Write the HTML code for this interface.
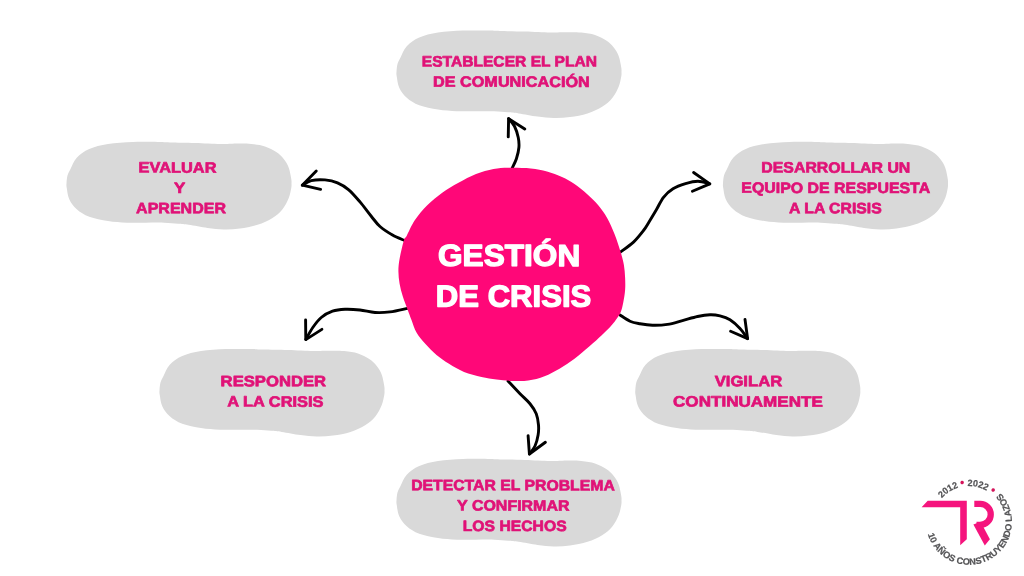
<!DOCTYPE html>
<html lang="es">
<head>
<meta charset="utf-8">
<title>Gestión de crisis</title>
<style>
html,body{margin:0;padding:0;background:#fff;}
body{width:1024px;height:576px;overflow:hidden;}
svg{display:block;}
.t{font-family:"Liberation Sans",sans-serif;font-weight:bold;font-size:15.0px;fill:#e01277;stroke:#e01277;stroke-width:0.7px;stroke-linejoin:round;}
.c{font-family:"Liberation Sans",sans-serif;font-weight:bold;font-size:30.4px;fill:#fff;stroke:#fff;stroke-width:1.3px;stroke-linejoin:round;}
.l{font-family:"Liberation Sans",sans-serif;font-weight:bold;font-size:9.2px;fill:#555557;stroke:#555557;stroke-width:0.2px;}
.a{fill:none;stroke:#000;stroke-width:2.9;stroke-linecap:round;stroke-linejoin:round;}
</style>
</head>
<body>
<svg width="1024" height="576" viewBox="0 0 1024 576">
<rect width="1024" height="576" fill="#fff"/>
<defs><path id="blob" d="M396.50,72.00C396.62,69.92 396.83,66.42 397.50,64.00C398.17,61.58 398.96,60.46 400.50,57.50C402.04,54.54 403.62,49.58 406.75,46.25C409.88,42.92 414.04,39.79 419.25,37.50C424.46,35.21 430.71,33.65 438.00,32.50C445.29,31.35 454.67,30.92 463.00,30.60C471.33,30.28 481.83,30.53 488.00,30.60C494.17,30.67 493.83,30.85 500.00,31.00C506.17,31.15 516.67,31.25 525.00,31.50C533.33,31.75 543.75,32.38 550.00,32.50C556.25,32.62 557.29,32.25 562.50,32.25C567.71,32.25 575.83,32.04 581.25,32.50C586.67,32.96 590.83,33.65 595.00,35.00C599.17,36.35 603.12,38.52 606.25,40.60C609.38,42.68 611.67,44.89 613.75,47.50C615.83,50.11 617.50,52.92 618.75,56.25C620.00,59.58 620.79,64.88 621.25,67.50C621.71,70.12 621.50,70.50 621.50,72.00C621.50,73.50 621.71,74.08 621.25,76.50C620.79,78.92 620.21,82.96 618.75,86.50C617.29,90.04 615.21,94.42 612.50,97.75C609.79,101.08 606.67,103.89 602.50,106.50C598.33,109.11 592.92,111.63 587.50,113.40C582.08,115.17 575.62,116.33 570.00,117.10C564.38,117.87 559.17,118.10 553.75,118.00C548.33,117.90 543.33,117.27 537.50,116.50C531.67,115.73 523.67,114.10 518.75,113.40C513.83,112.70 512.08,112.66 508.00,112.30C503.92,111.94 499.67,111.42 494.25,111.25C488.83,111.08 481.75,111.25 475.50,111.25C469.25,111.25 463.00,111.53 456.75,111.25C450.50,110.97 444.25,110.60 438.00,109.60C431.75,108.60 424.46,107.22 419.25,105.25C414.04,103.28 410.08,100.67 406.75,97.75C403.42,94.83 400.92,91.29 399.25,87.75C397.58,84.21 397.21,79.12 396.75,76.50C396.29,73.88 396.38,74.08 396.50,72.00Z"/><filter id="aa" x="0" y="0" width="1024" height="576" filterUnits="userSpaceOnUse" color-interpolation-filters="sRGB"><feColorMatrix type="matrix" values="1 0 0 0 0 0 1 0 0 0 0 0 1 0 0 0 0 0 1 0"/></filter></defs>
<use href="#blob" fill="#d9d9d9" transform="translate(0,0)"/>
<use href="#blob" fill="#d9d9d9" transform="translate(-330,111.4)"/>
<use href="#blob" fill="#d9d9d9" transform="translate(326.5,111.4)"/>
<use href="#blob" fill="#d9d9d9" transform="translate(-237,318.5)"/>
<use href="#blob" fill="#d9d9d9" transform="translate(238.8,318.5)"/>
<use href="#blob" fill="#d9d9d9" transform="translate(0,428.4)"/>
<path class="a" d="M512.00,168.50C512.73,166.88 515.25,162.25 516.40,158.75C517.55,155.25 518.59,151.04 518.90,147.50C519.21,143.96 518.98,141.04 518.25,137.50C517.52,133.96 516.11,129.40 514.50,126.25C512.89,123.10 509.58,119.88 508.60,118.60"/>
<path class="a" d="M508.25,136.9L508.6,118.6L524.75,129"/>
<path class="a" d="M404.50,240.50C402.50,239.58 396.58,237.33 392.50,235.00C388.42,232.67 383.54,229.62 380.00,226.50C376.46,223.38 374.58,220.35 371.25,216.25C367.92,212.15 363.75,206.31 360.00,201.90C356.25,197.49 352.50,192.98 348.75,189.80C345.00,186.62 341.46,184.45 337.50,182.80C333.54,181.15 329.38,180.27 325.00,179.90C320.62,179.53 315.03,179.72 311.25,180.60C307.47,181.48 303.79,184.43 302.30,185.20"/>
<path class="a" d="M316.25,171L302.3,185.2L320.6,189.4"/>
<path class="a" d="M620.00,252.40C622.25,250.68 629.58,245.75 633.50,242.10C637.42,238.45 640.87,233.93 643.50,230.50C646.13,227.07 647.13,225.00 649.30,221.50C651.47,218.00 654.13,213.53 656.50,209.50C658.87,205.47 660.75,200.75 663.50,197.30C666.25,193.85 669.33,191.07 673.00,188.80C676.67,186.53 681.33,184.95 685.50,183.70C689.67,182.45 693.95,181.27 698.00,181.30C702.05,181.33 707.83,183.47 709.80,183.90"/>
<path class="a" d="M693.6,172.5L709.8,183.9L692.4,191.25"/>
<path class="a" d="M407.50,308.30C404.58,308.90 395.42,311.20 390.00,311.90C384.58,312.60 380.00,312.82 375.00,312.50C370.00,312.18 365.00,310.53 360.00,310.00C355.00,309.47 349.58,309.10 345.00,309.30C340.42,309.50 336.46,309.83 332.50,311.20C328.54,312.57 324.53,314.78 321.25,317.50C317.97,320.22 315.38,323.82 312.80,327.50C310.23,331.18 306.97,337.58 305.80,339.60"/>
<path class="a" d="M305.6,320L305.8,339.6L321.9,329.4"/>
<path class="a" d="M620.00,315.00C621.67,316.04 626.67,319.79 630.00,321.25C633.33,322.71 636.25,323.08 640.00,323.75C643.75,324.42 647.92,325.14 652.50,325.25C657.08,325.36 662.50,325.17 667.50,324.40C672.50,323.62 677.50,321.92 682.50,320.60C687.50,319.28 692.92,317.48 697.50,316.50C702.08,315.52 706.25,314.82 710.00,314.70C713.75,314.58 716.67,314.97 720.00,315.80C723.33,316.63 726.67,317.60 730.00,319.70C733.33,321.80 737.07,325.25 740.00,328.40C742.93,331.55 746.33,336.90 747.60,338.60"/>
<path class="a" d="M745,319.4L747.6,338.6L730.6,331.25"/>
<path class="a" d="M508.00,381.00C510.00,383.12 516.33,389.96 520.00,393.75C523.67,397.54 527.29,400.42 530.00,403.75C532.71,407.08 534.83,410.21 536.25,413.75C537.67,417.29 538.19,421.46 538.50,425.00C538.81,428.54 538.68,431.50 538.10,435.00C537.52,438.50 536.45,442.83 535.00,446.00C533.55,449.17 530.33,452.67 529.40,454.00"/>
<path class="a" d="M528.1,435.6L529.4,454L545.4,442.25"/>
<path d="M508.50,167.75C514.71,167.65 524.33,167.78 530.75,168.40C537.17,169.03 541.79,170.05 547.00,171.50C552.21,172.95 557.42,175.02 562.00,177.10C566.58,179.18 570.33,181.18 574.50,184.00C578.67,186.82 583.04,190.46 587.00,194.00C590.96,197.54 594.92,201.29 598.25,205.25C601.58,209.21 604.29,212.96 607.00,217.75C609.71,222.54 612.21,228.21 614.50,234.00C616.79,239.79 619.18,247.33 620.75,252.50C622.32,257.67 623.17,260.83 623.90,265.00C624.62,269.17 624.90,273.33 625.10,277.50C625.30,281.67 625.41,285.83 625.10,290.00C624.79,294.17 623.98,298.83 623.25,302.50C622.52,306.17 622.00,309.08 620.75,312.00C619.50,314.92 617.42,317.62 615.75,320.00C614.08,322.38 613.04,323.75 610.75,326.25C608.46,328.75 605.54,331.67 602.00,335.00C598.46,338.33 594.08,342.29 589.50,346.25C584.92,350.21 579.50,355.00 574.50,358.75C569.50,362.50 564.50,365.83 559.50,368.75C554.50,371.67 549.71,374.27 544.50,376.25C539.29,378.23 533.67,379.83 528.25,380.60C522.83,381.38 517.29,381.10 512.00,380.90C506.71,380.70 501.58,380.07 496.50,379.40C491.42,378.73 486.92,378.15 481.50,376.90C476.08,375.65 469.42,374.09 464.00,371.90C458.58,369.71 453.58,366.57 449.00,363.75C444.42,360.93 440.46,358.33 436.50,355.00C432.54,351.67 428.58,347.50 425.25,343.75C421.92,340.00 418.79,336.46 416.50,332.50C414.21,328.54 412.96,323.75 411.50,320.00C410.04,316.25 409.21,313.96 407.75,310.00C406.29,306.04 404.11,300.62 402.75,296.25C401.39,291.88 400.33,287.92 399.60,283.75C398.88,279.58 398.40,275.42 398.40,271.25C398.40,267.08 398.67,263.96 399.60,258.75C400.53,253.54 402.83,243.79 404.00,240.00C405.17,236.21 404.81,239.29 406.60,236.00C408.39,232.71 411.31,225.38 414.75,220.25C418.19,215.12 422.67,209.83 427.25,205.25C431.83,200.67 437.04,196.50 442.25,192.75C447.46,189.00 452.88,185.88 458.50,182.75C464.12,179.62 470.17,176.29 476.00,174.00C481.83,171.71 488.08,170.04 493.50,169.00C498.92,167.96 502.29,167.85 508.50,167.75Z" fill="#ff0778"/>
<g filter="url(#aa)">
<text id="t0" class="t" transform="matrix(1,0.001,0,1,0,-0.509)" x="421.75" y="66.50" textLength="175.33" lengthAdjust="spacingAndGlyphs">ESTABLECER EL PLAN</text>
<text id="t1" class="t" transform="matrix(1,0.001,0,1,0,-0.511)" x="433.03" y="86.85" textLength="156.76" lengthAdjust="spacingAndGlyphs">DE COMUNICACIÓN</text>
<text id="t2" class="t" transform="matrix(1,0.001,0,1,0,-0.178)" x="138.64" y="172.65" textLength="77.86" lengthAdjust="spacingAndGlyphs">EVALUAR</text>
<text id="t3" class="t" transform="matrix(1,0.001,0,1,0,-0.180)" x="174.01" y="192.95" textLength="11.33" lengthAdjust="spacingAndGlyphs">Y</text>
<text id="t4" class="t" transform="matrix(1,0.001,0,1,0,-0.181)" x="136.14" y="213.25" textLength="89.88" lengthAdjust="spacingAndGlyphs">APRENDER</text>
<text id="t5" class="t" transform="matrix(1,0.001,0,1,0,-0.836)" x="761.32" y="172.65" textLength="149.04" lengthAdjust="spacingAndGlyphs">DESARROLLAR UN</text>
<text id="t6" class="t" transform="matrix(1,0.001,0,1,0,-0.836)" x="741.31" y="192.95" textLength="188.85" lengthAdjust="spacingAndGlyphs">EQUIPO DE RESPUESTA</text>
<text id="t7" class="t" transform="matrix(1,0.001,0,1,0,-0.835)" x="789.06" y="213.25" textLength="92.68" lengthAdjust="spacingAndGlyphs">A LA CRISIS</text>
<text id="t8" class="t" transform="matrix(1,0.001,0,1,0,-0.273)" x="220.60" y="386.25" textLength="105.57" lengthAdjust="spacingAndGlyphs">RESPONDER</text>
<text id="t9" class="t" transform="matrix(1,0.001,0,1,0,-0.275)" x="227.15" y="406.65" textLength="96.44" lengthAdjust="spacingAndGlyphs">A LA CRISIS</text>
<text id="t10" class="t" transform="matrix(1,0.001,0,1,0,-0.748)" x="714.68" y="386.25" textLength="67.58" lengthAdjust="spacingAndGlyphs">VIGILAR</text>
<text id="t11" class="t" transform="matrix(1,0.001,0,1,0,-0.748)" x="673.04" y="406.65" textLength="149.84" lengthAdjust="spacingAndGlyphs">CONTINUAMENTE</text>
<text id="t12" class="t" transform="matrix(1,0.001,0,1,0,-0.513)" x="411.16" y="490.35" textLength="203.63" lengthAdjust="spacingAndGlyphs">DETECTAR EL PROBLEMA</text>
<text id="t13" class="t" transform="matrix(1,0.001,0,1,0,-0.513)" x="457.08" y="510.65" textLength="112.42" lengthAdjust="spacingAndGlyphs">Y CONFIRMAR</text>
<text id="t14" class="t" transform="matrix(1,0.001,0,1,0,-0.515)" x="462.76" y="530.95" textLength="103.89" lengthAdjust="spacingAndGlyphs">LOS HECHOS</text>
<text id="c0" class="c" transform="matrix(1,0.001,0,1,0,-0.509)" x="438.05" y="265.85" textLength="142.17" lengthAdjust="spacingAndGlyphs">GESTIÓN</text>
<text id="c1" class="c" transform="matrix(1,0.001,0,1,0,-0.514)" x="435.84" y="306.55" textLength="155.46" lengthAdjust="spacingAndGlyphs">DE CRISIS</text>
<polygon fill="#f5147d" points="927.7,500.8 966.8,500.8 966.8,539.2 960.2,545.3 960.2,507.3 921.6,507.3"/>
<path fill="none" stroke="#f5147d" stroke-width="6.3" d="M974.3,503.95 H980.3 A10.45,10.45 0 0 1 980.3,524.85 H976.5"/>
<polygon fill="#f5147d" points="973.4,524.6 980.6,521.7 989.9,539.2 984.8,545.5"/>
<path id="arcb" fill="none" d="M927.87,534.18 A42.9,42.9 0 1 0 1000.88,493.29"/>
<path id="arct" fill="none" d="M941.83,498.38 A36.0,36.0 0 0 1 992.14,494.42"/>
<text class="l" textLength="153.9" lengthAdjust="spacingAndGlyphs"><textPath href="#arcb" textLength="153.9" lengthAdjust="spacingAndGlyphs">10 AÑOS CONSTRUYENDO LAZOS</textPath></text>
<text class="l" textLength="55.9" lengthAdjust="spacingAndGlyphs"><textPath href="#arct" textLength="55.9" lengthAdjust="spacingAndGlyphs">2012 <tspan fill="#d4145a" stroke="none" font-size="12.5">•</tspan> 2022 <tspan fill="#d4145a" stroke="none" font-size="12.5">•</tspan></textPath></text>
</g>
</svg>
</body>
</html>
